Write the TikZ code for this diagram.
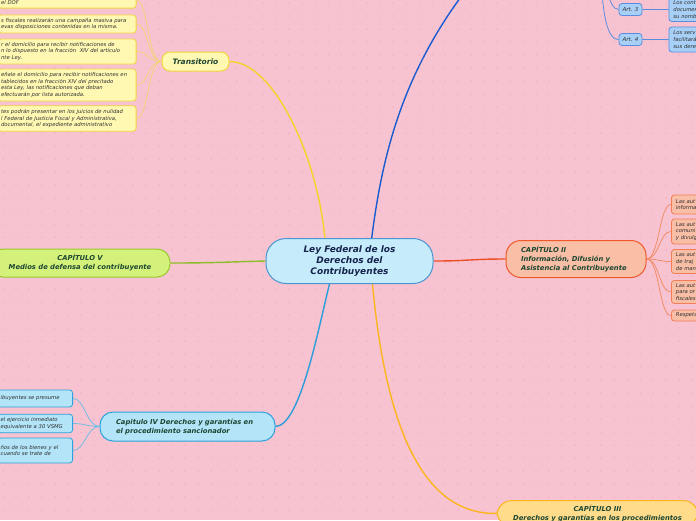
\documentclass[tikz,border=0pt]{standalone}
\usepackage{fontspec}
\setmainfont{DejaVu Sans}
\usetikzlibrary{calc}
\pgfdeclarelayer{bg}
\pgfsetlayers{bg,main}
\definecolor{bgpink}{HTML}{F7C3D0}
\definecolor{dotpink}{HTML}{E9ADBF}
\definecolor{txtgreen}{HTML}{1D4631}
\definecolor{txtnavy}{HTML}{16244C}
\definecolor{smalltxt}{HTML}{2E2E2E}
\definecolor{ylfill}{HTML}{FFF8B3}
\definecolor{ylborder}{HTML}{EFD53C}
\definecolor{ylline}{HTML}{F4D22A}
\definecolor{ylchild}{HTML}{F2D27C}
\definecolor{grfill}{HTML}{D4F27B}
\definecolor{grborder}{HTML}{98C92F}
\definecolor{grline}{HTML}{8DBE2A}
\definecolor{cfill}{HTML}{C6ECFB}
\definecolor{cborder}{HTML}{4A95D2}
\definecolor{bfill}{HTML}{B3E4F8}
\definecolor{bborder}{HTML}{2DA2DE}
\definecolor{bline}{HTML}{2B9DDA}
\definecolor{bchild}{HTML}{72BFE5}
\definecolor{rfill}{HTML}{F8BEA6}
\definecolor{rborder}{HTML}{F0582A}
\definecolor{rline}{HTML}{EE4E25}
\definecolor{rchildb}{HTML}{F37E56}
\definecolor{rchild}{HTML}{F28C68}
\definecolor{dbline}{HTML}{1A5CCF}
\definecolor{afill}{HTML}{A8D0F6}
\definecolor{aborder}{HTML}{5A8CDF}
\definecolor{ofill}{HTML}{FFDC8C}
\definecolor{oborder}{HTML}{FDB51E}
\begin{document}
\begin{tikzpicture}[x=1pt,y=-1pt,
  conn/.style={line width=1.4pt},
  cconn/.style={line width=0.8pt},
  central/.style={draw=cborder, fill=cfill, line width=1pt, rounded corners=20pt,
    minimum width=167pt, minimum height=45pt, align=center, text=txtnavy,
    font=\fontsize{9}{11}\selectfont\bfseries\itshape},
  chap/.style={line width=1pt, text=txtgreen, inner sep=0pt,
    font=\fontsize{6.8}{9}\selectfont\bfseries\itshape},
  smallbox/.style={rounded corners=3pt, line width=0.8pt, inner xsep=3pt, inner ysep=0pt,
    align=left, text=smalltxt, font=\fontsize{5.3}{6.7}\selectfont\itshape},
  ybox/.style={smallbox, fill=ylfill, draw=ylborder, anchor=east, text width=132pt},
  bbox/.style={smallbox, fill=bfill, draw=bborder, anchor=east, text width=69pt},
  rbox/.style={smallbox, fill=rfill, draw=rchildb, anchor=west, text width=40pt, inner xsep=4.5pt},
  abox/.style={smallbox, fill=afill, draw=aborder, anchor=west, text width=40pt, inner xsep=4.5pt},
  artbox/.style={smallbox, fill=afill, draw=aborder, align=center, inner xsep=0pt,
    minimum width=23pt, minimum height=12pt, font=\fontsize{5.5}{6.7}\selectfont\itshape}
]
\useasboundingbox (0,0) rectangle (696,520);
\begin{pgfonlayer}{bg}
\fill[bgpink] (0,0) rectangle (696,520);
\foreach \i in {0,...,53}{\foreach \j in {0,...,40}{\fill[dotpink] (3+\i*13,3+\j*13) circle (0.75pt);}}
\end{pgfonlayer}

% central
\node[central] (c) at (349.5,261) {Ley Federal de los\\Derechos del\\Contribuyentes};

% Transitorio branch
\node[chap, fill=ylfill, draw=ylborder, rounded corners=8pt, minimum width=67pt, minimum height=19pt,
  font=\fontsize{7.5}{9}\selectfont\bfseries\itshape] (tr) at (195.5,61.5) {Transitorio};
\node[ybox, anchor=south east, inner ysep=2pt, text height=10pt, text depth=1.6pt] (t1) at (136.5,8.5) {el DOF};
\node[ybox, minimum height=18pt] (t2) at (136.5,24) {s fiscales realizarán una campaña masiva para\\evas disposiciones contenidas en la misma.};
\node[ybox, minimum height=25pt] (t3) at (136.5,51.5) {r el domicilio para recibir notificaciones de\\n lo dispuesto en la fracción~ XIV del artículo\\nte Ley.};
\node[ybox, minimum height=32pt] (t4) at (136.5,85) {eñale el domicilio para recibir notificaciones en\\tablecidos en la fracción XIV del precitado\\esta Ley, las notificaciones que deban\\efectuarán por lista autorizada.};
\node[ybox, minimum height=25.5pt] (t5) at (136.5,118.5) {tes podrán presentar en los juicios de nulidad\\l Federal de Justicia Fiscal y Administrativa,\\documental, el expediente administrativo};

% Capitulo V
\node[chap, fill=grfill, draw=grborder, rounded corners=13pt, minimum width=180pt, minimum height=28pt,
  align=center] (c5) at (80,263) {CAPÍTULO V\\Medios de defensa del contribuyente};

% Capitulo IV
\node[chap, fill=bfill, draw=bborder, rounded corners=13pt, text width=143pt, inner xsep=16pt,
  minimum height=29pt, align=left] (c4) at (187.5,426.5) {Capitulo IV Derechos y garantías en\\el procedimiento sancionador};
\node[bbox, minimum height=17pt] (b1) at (73,398.5) {ibuyentes se presume};
\node[bbox, minimum height=18.5pt] (b2) at (73,423.5) {el ejercicio inmediato\\ equivalente a 30 VSMG};
\node[bbox, minimum height=25pt] (b3) at (73,450.5) {ños de los bienes y el\\ cuando se trate de};

% Capitulo II
\node[chap, fill=rfill, draw=rborder, rounded corners=15pt, text width=110pt, inner xsep=15pt,
  minimum height=37pt, align=left] (c2) at (576,259) {CAPÍTULO II\\Información, Difusión y\\Asistencia al Contribuyente};
\node[rbox, minimum height=19pt] (r1) at (671,204.5) {Las aut\\informa};
\node[rbox, minimum height=25pt] (r2) at (671,231.5) {Las aut\\comuni\\y divulg};
\node[rbox, minimum height=24pt] (r3) at (671,261.5) {Las aut\\de traj\\de man};
\node[rbox, minimum height=23pt] (r4) at (671,292) {Las aut\\para or\\fiscales};
\node[rbox, minimum height=11pt] (r5) at (671,315.5) {Respeta};

% Capitulo III
\node[chap, fill=ofill, draw=oborder, rounded corners=15pt, minimum width=201pt, inner ysep=4.5pt,
  align=center, anchor=north] (c3) at (597.5,500) {CAPÍTULO III\\Derechos y garantías en los procedimientos};

% Capitulo I (off-picture) children
\coordinate (capI) at (495,-45);
\coordinate (artp) at (600,-40);
\node[artbox] (a3) at (630.5,9.5) {Art. 3};
\node[artbox] (a4) at (630.5,39.5) {Art. 4};
\node[abox, minimum height=24pt] (ra) at (668.5,9.5) {Los cont\\documen\\su nomb};
\node[abox, minimum height=25pt] (rb) at (668.5,39.5) {Los serv\\facilitará\\sus dere};

\begin{pgfonlayer}{bg}
\draw[conn, ylline] (tr.east) .. controls (275,62) and (318,160) .. (c.137);
\draw[conn, grline] (c5.east) .. controls (215,263) and (225,262) .. (c.west);
\draw[conn, bline] (c4.east) .. controls (300,426) and (318,330) .. (c.229);
\draw[conn, dbline] (c.46) .. controls (383,150) and (405,55) .. (capI);
\draw[conn, rline] (c.east) .. controls (470,261) and (470,259) .. (c2.west);
\draw[conn, oborder] (c.315) .. controls (385,420) and (420,515) .. (c3.west);
\foreach \n in {t1,t2,t3,t4,t5}{
  \draw[cconn, ylchild] (tr.west) .. controls ($(tr.west)+(-14,0)$) and ($(\n.east)+(12,0)$) .. (\n.east);}
\foreach \n in {b1,b2,b3}{
  \draw[cconn, bchild] (c4.west) .. controls ($(c4.west)+(-13,0)$) and ($(\n.east)+(12,0)$) .. (\n.east);}
\foreach \n in {r1,r2,r3,r4,r5}{
  \draw[cconn, rchild] (c2.east) .. controls ($(c2.east)+(13,0)$) and ($(\n.west)+(-12,0)$) .. (\n.west);}
\draw[cconn, aborder] (artp) .. controls (606,-20) and (608,9.5) .. (a3.west);
\draw[cconn, aborder] (artp) .. controls (602,0) and (604,39.5) .. (a4.west);
\draw[cconn, aborder] (a3.east) -- (ra.west);
\draw[cconn, aborder] (a4.east) -- (rb.west);
\end{pgfonlayer}
\end{tikzpicture}
\end{document}
